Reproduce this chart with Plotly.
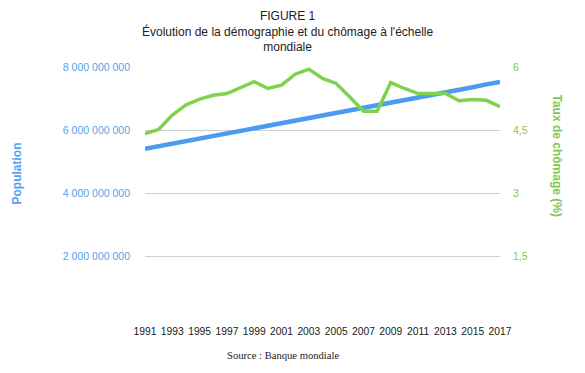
import plotly.graph_objects as go

years = list(range(1991, 2018))
population = [5.41e9, 5.49e9, 5.57e9, 5.65e9, 5.73e9, 5.81e9, 5.89e9, 5.97e9, 6.05e9,
              6.13e9, 6.21e9, 6.29e9, 6.37e9, 6.45e9, 6.53e9, 6.61e9, 6.69e9, 6.77e9,
              6.86e9, 6.94e9, 7.02e9, 7.10e9, 7.19e9, 7.27e9, 7.36e9, 7.45e9, 7.53e9]
chomage = [4.42, 4.52, 4.86, 5.10, 5.24, 5.33, 5.37, 5.51, 5.65, 5.49, 5.57, 5.83, 5.95,
           5.73, 5.61, 5.29, 4.95, 4.95, 5.63, 5.49, 5.37, 5.37, 5.37, 5.20, 5.23, 5.21, 5.06]

pop_ticks = [2e9, 4e9, 6e9, 8e9]
pop_labels = ["2 000 000 000", "4 000 000 000", "6 000 000 000", "8 000 000 000"]
cho_ticks = [1.5, 3, 4.5, 6]
cho_labels = ["1,5", "3", "4,5", "6"]
year_ticks = list(range(1991, 2018, 2))

BLUE = "#4b9cf0"
GREEN = "#80d24e"
BLUE_TXT = "#55a2ec"
GREEN_TXT = "#80c950"

fig = go.Figure()
fig.add_trace(go.Scatter(x=years, y=population, mode="lines",
                         line=dict(color=BLUE, width=4.5), yaxis="y", showlegend=False))
fig.add_trace(go.Scatter(x=years, y=chomage, mode="lines",
                         line=dict(color=GREEN, width=3.5), yaxis="y2", showlegend=False))

fig.update_layout(
    width=585, height=373,
    margin=dict(l=145, r=85, t=67, b=53),
    paper_bgcolor="white", plot_bgcolor="white",
    font=dict(family="Liberation Sans, Arial, sans-serif", color="#222"),
    xaxis=dict(range=[1991, 2017], tickvals=year_ticks, ticktext=[str(y) for y in year_ticks],
               showgrid=False, zeroline=False, showline=False,
               tickfont=dict(size=10.3, color="#1a1a1a"), ticklabelstandoff=4),
    yaxis=dict(range=[0, 8e9], tickvals=pop_ticks, ticktext=pop_labels,
               showgrid=True, gridcolor="#cfcfcf", gridwidth=1, zeroline=False,
               tickfont=dict(size=10.5, color=BLUE_TXT), ticklabelstandoff=14),
    yaxis2=dict(range=[0, 6], tickvals=cho_ticks, ticktext=cho_labels, overlaying="y",
                side="right", showgrid=False, zeroline=False,
                tickfont=dict(size=10.5, color=GREEN_TXT), ticklabelstandoff=12),
    annotations=[
        dict(text="FIGURE 1<br>Évolution de la démographie et du chômage à l'échelle<br>mondiale",
             xref="paper", yref="paper", x=0.40, y=1, yshift=60, yanchor="top",
             xanchor="center", showarrow=False, align="center",
             font=dict(size=12, color="#222")),
        dict(text="<b>Population</b>", xref="paper", yref="paper", x=0, xshift=-138,
             y=0.5, yshift=20, textangle=-90, showarrow=False,
             font=dict(size=12, color=BLUE_TXT)),
        dict(text="<b>Taux de chômage (%)</b>", xref="paper", yref="paper", x=1, xshift=66,
             y=0.5, yshift=38, textangle=90, showarrow=False,
             font=dict(size=12, color=GREEN_TXT)),
        dict(text="Source : Banque mondiale", xref="paper", yref="paper", x=0.39,
             y=0, yshift=-35, yanchor="middle", xanchor="center", showarrow=False,
             font=dict(size=10.6, color="#222", family="Liberation Serif, Times New Roman, serif")),
    ],
)

fig.write_html("out.html", config={"displayModeBar": False},
               post_script="document.body.style.margin='0';")
